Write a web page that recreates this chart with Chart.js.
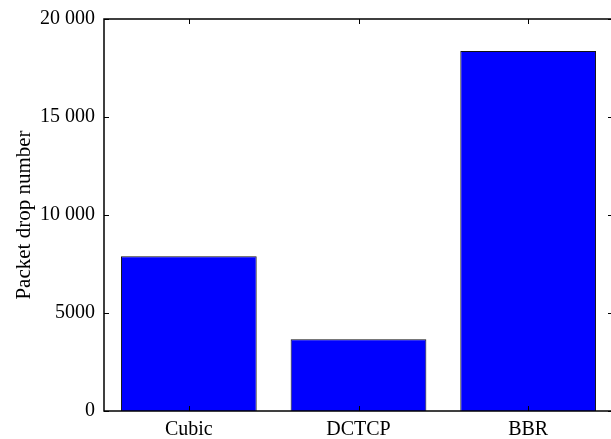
<!DOCTYPE html>
<html>
<head>
<meta charset="utf-8">
<script src="https://cdn.jsdelivr.net/npm/chart.js@4/dist/chart.umd.min.js"></script>
<style>
  body { margin: 0; background: #fff; }
  #wrap { width: 611px; height: 439px; overflow: hidden; }
  #box { width: 614px; height: 439px; }
</style>
</head>
<body>
<div id="wrap"><div id="box"><canvas id="myChart"></canvas></div></div>
<script>
var categories = ["Cubic", "DCTCP", "BBR"];
var dropValues = [7890, 3660, 18370];
var yTickValues = [0, 5000, 10000, 15000, 20000];
var yTickLabels = ["0", "5000", "10 000", "15 000", "20 000"];

var tickFont = { family: "'Liberation Serif', 'DejaVu Serif', serif", size: 20, lineHeight: 1 };
var titleFont = { family: "'Liberation Serif', 'DejaVu Serif', serif", size: 21 };

// box around the plot with ticks pointing inward, like the original figure
var framePlugin = {
  id: "frame",
  afterDatasetsDraw(chart) {
    var ctx = chart.ctx, a = chart.chartArea;
    var x = chart.scales.x, y = chart.scales.y;
    var len = 5;
    ctx.save();
    ctx.strokeStyle = "#000";
    ctx.lineWidth = 1;
    ctx.beginPath();
    yTickValues.forEach(function (v) {
      var py = Math.round(y.getPixelForValue(v)) + 0.5;
      ctx.moveTo(a.left, py); ctx.lineTo(a.left + len, py);
      ctx.moveTo(a.right, py); ctx.lineTo(a.right - len, py);
    });
    categories.forEach(function (c, i) {
      var px = Math.round(x.getPixelForValue(i)) + 0.5;
      ctx.moveTo(px, a.bottom); ctx.lineTo(px, a.bottom - len);
      ctx.moveTo(px, a.top); ctx.lineTo(px, a.top + len);
    });
    ctx.stroke();
    ctx.lineWidth = 1.5;
    ctx.strokeRect(a.left, a.top, a.right - a.left, a.bottom - a.top);
    ctx.restore();
  }
};

new Chart("myChart", {
  type: "bar",
  data: {
    labels: categories,
    datasets: [{
      data: dropValues,
      backgroundColor: "#0000ff",
      borderColor: "#111",
      borderWidth: 1,
      barPercentage: 0.8,
      categoryPercentage: 1.0
    }]
  },
  options: {
    responsive: true,
    maintainAspectRatio: false,
    animation: false,
    layout: { padding: { top: 18, right: 1, left: 0, bottom: 0 } },
    plugins: { legend: { display: false }, tooltip: { enabled: false } },
    scales: {
      x: {
        grid: { display: false, drawTicks: false },
        border: { display: false },
        ticks: { color: "#000", font: tickFont, padding: 9, maxRotation: 0 },
        afterFit(s) { s.height = 28; }
      },
      y: {
        min: 0,
        max: 20000,
        afterBuildTicks(s) { s.ticks = yTickValues.map(function (v) { return { value: v }; }); },
        grid: { display: false, drawTicks: false },
        border: { display: false },
        ticks: {
          color: "#000",
          font: tickFont,
          padding: 9,
          callback: function (v) { return yTickLabels[yTickValues.indexOf(v)]; }
        },
        title: {
          display: true,
          text: "Packet drop number",
          color: "#000",
          font: titleFont,
          padding: { top: 12, bottom: 0 }
        },
        afterFit(s) { s.width = 104; }
      }
    }
  },
  plugins: [framePlugin]
});
</script>
</body>
</html>
